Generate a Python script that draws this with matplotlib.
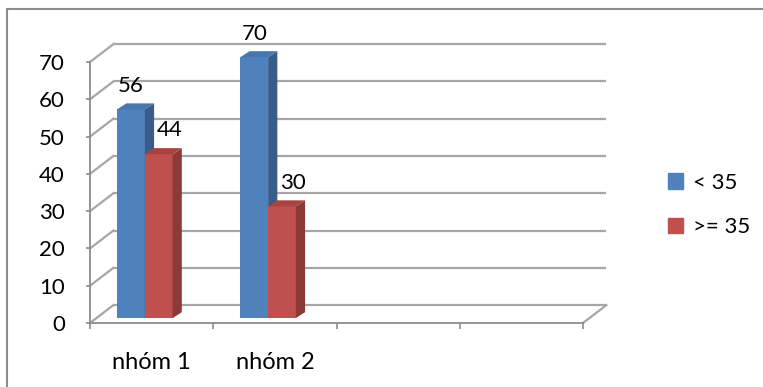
import matplotlib
matplotlib.use('Agg')
import matplotlib.pyplot as plt
from matplotlib.patches import Polygon, Patch, Rectangle

# data
groups = ['nhóm 1', 'nhóm 2', '', '']
series = ['< 35', '>= 35']
under_35 = [56, 70]
over_35 = [44, 30]
y_ticks = [0, 10, 20, 30, 40, 50, 60, 70]

# colours (front, side, top)
blue = ('#4f81bd', '#385d8a', '#4a76ab')
red = ('#c0504d', '#8b3a38', '#a8443f')
grid_c = '#a6a6a6'
axis_c = '#8c8c8c'

plt.rcParams['font.family'] = ['Lato', 'DejaVu Sans']
fs = 16

fig = plt.figure(figsize=(7.63, 3.87), dpi=100)
ax = fig.add_axes([90 / 763, 64 / 387, 493 / 763, 261 / 387])
ax.set_xlim(0, len(groups))
ax.set_ylim(0, max(y_ticks))
ax.patch.set_visible(False)

# 3d wall depth (data units)
wall_dx, wall_dy = 0.19, 4.8
# bar placement
bar_w = 0.225
bar_x0 = 0.22
bar_lift = 1.3
bar_dx, bar_dy = 0.075, 1.6

n = len(groups)
# back wall gridlines + side wall diagonals
for v in y_ticks:
    ax.plot([wall_dx, n + wall_dx], [v + wall_dy] * 2, color=grid_c, lw=1.6,
            clip_on=False, zorder=1, solid_capstyle='butt')
    ax.plot([0, wall_dx], [v, v + wall_dy], color=grid_c, lw=1.6,
            clip_on=False, zorder=1)
ax.plot([n, n + wall_dx], [0, wall_dy], color=grid_c, lw=1.6, clip_on=False, zorder=1)


def draw_bar(x0, val, cols):
    b = bar_lift
    top = b + val
    x1 = x0 + bar_w
    ax.bar(x0, val, bar_w, bottom=b, align='edge', color=cols[0], zorder=3,
           clip_on=False)
    ax.add_patch(Polygon([(x1, b), (x1 + bar_dx, b + bar_dy),
                          (x1 + bar_dx, top + bar_dy), (x1, top)],
                         closed=True, fc=cols[1], ec='none', zorder=3, clip_on=False))
    ax.add_patch(Polygon([(x0, top), (x1, top), (x1 + bar_dx, top + bar_dy),
                          (x0 + bar_dx, top + bar_dy)],
                         closed=True, fc=cols[2], ec='none', zorder=3, clip_on=False))
    return x0 + bar_w / 2, top


for i, (a, b) in enumerate(zip(under_35, over_35)):
    xc, top = draw_bar(i + bar_x0, a, blue)
    ax.annotate(str(a), xy=(xc, top), xytext=(0, 17), textcoords='offset points',
                ha='center', va='center', fontsize=fs, zorder=5, annotation_clip=False)
    xc, top = draw_bar(i + bar_x0 + bar_w, b, red)
    ax.annotate(str(b), xy=(xc, top), xytext=(8, 17), textcoords='offset points',
                ha='center', va='center', fontsize=fs, zorder=5, annotation_clip=False)

# axes
for s in ['top', 'right']:
    ax.spines[s].set_visible(False)
for s in ['left', 'bottom']:
    ax.spines[s].set_color(axis_c)
    ax.spines[s].set_linewidth(1.3)
    ax.spines[s].set_zorder(2)

ax.set_yticks(y_ticks)
ax.tick_params(axis='y', direction='out', length=3, width=1.2, color=axis_c,
               labelsize=fs, pad=15)
ax.set_xticks(range(n + 1))
ax.set_xticklabels([''] * (n + 1))
ax.tick_params(axis='x', which='major', direction='out', length=4, width=1.2,
               color=axis_c)
ax.set_xticks([i + 0.5 for i in range(n)], minor=True)
ax.set_xticklabels(groups, minor=True)
ax.tick_params(axis='x', which='minor', length=0, labelsize=17, pad=21)

fig.legend(handles=[Patch(color=blue[0]), Patch(color=red[0])], labels=series,
           loc='center left', bbox_to_anchor=(668 / 763, 1 - 205 / 387),
           frameon=False, fontsize=fs, handlelength=0.68, handleheight=0.68,
           handletextpad=0.45, labelspacing=1.1, borderpad=0, borderaxespad=0)

# chart frame
fig.add_artist(Rectangle((7 / 763, -0.1), 1.2, 1.1 - 9 / 387, transform=fig.transFigure,
                         fill=False, ec=axis_c, lw=1.5))

fig.savefig('out.png', dpi=100)
